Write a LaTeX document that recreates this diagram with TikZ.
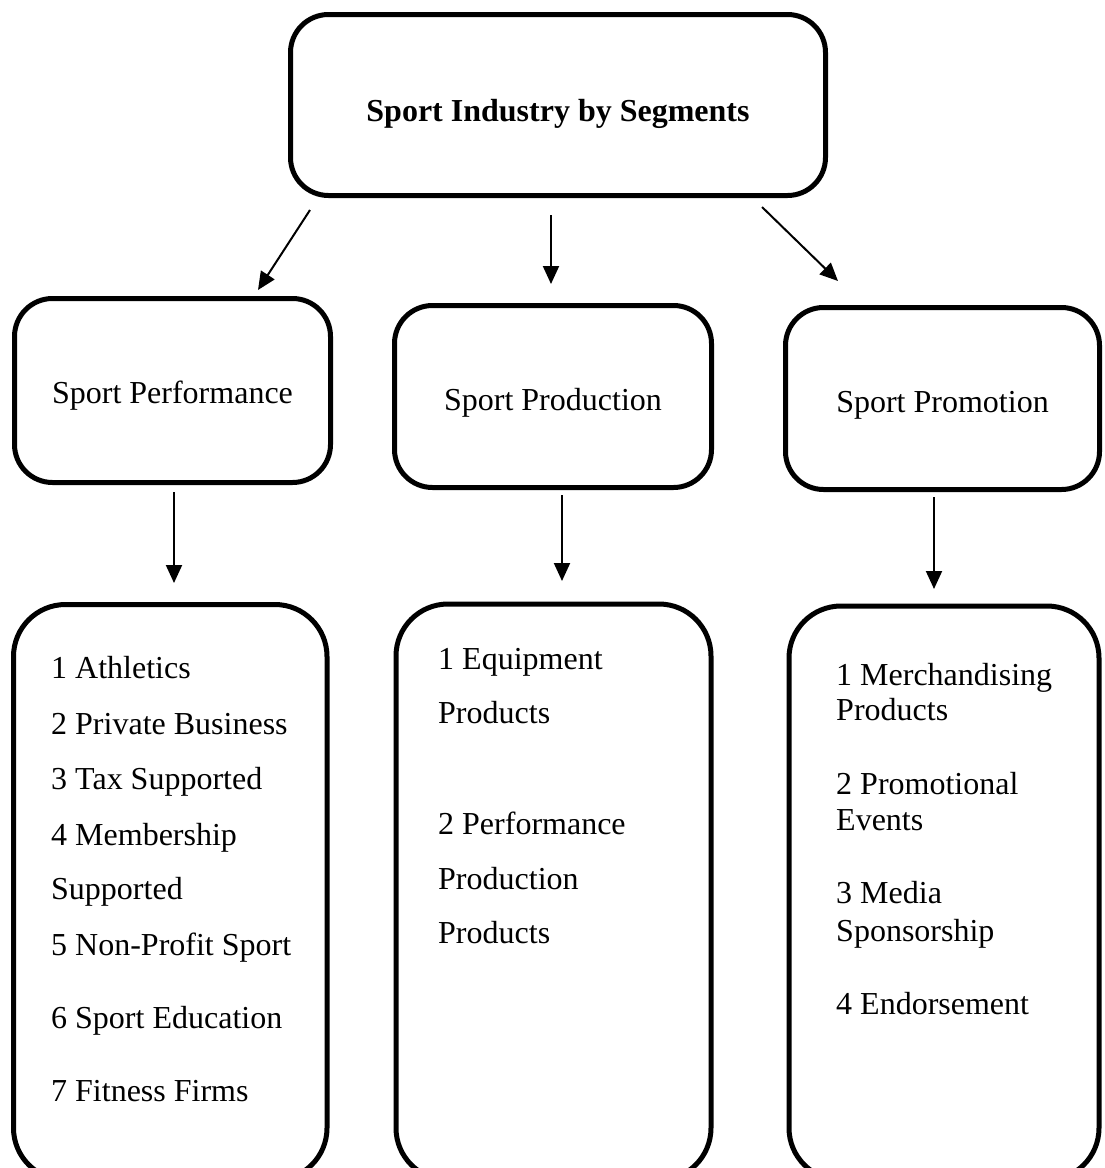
\documentclass[tikz,border=0pt]{standalone}
\usepackage{fontspec}
\setmainfont{Liberation Serif}
\usetikzlibrary{arrows.meta}
\begin{document}
\begin{tikzpicture}[x=1pt,y=-1pt,
  box/.style={draw,line width=5pt,rounded corners=38pt,inner sep=0pt},
  tallbox/.style={draw,line width=5pt,rounded corners=52pt,inner sep=0pt},
  label text/.style={inner sep=0pt,font=\fontsize{32}{38}\selectfont},
  item/.style={anchor=base west,inner sep=0pt,font=\fontsize{32}{38}\selectfont},
  link/.style={line width=2pt,-{Triangle[length=18pt,width=16pt]}}]
\useasboundingbox (0,0) rectangle (1104,1168);
\clip (0,0) rectangle (1104,1168);

% root
\node[box,minimum width=535pt,minimum height=181pt] (root) at (558,105) {};
\node[label text,font=\fontsize{32}{38}\selectfont\bfseries] (roottext) at (558,114)
  {Sport Industry by Segments};

% segments
\node[box,minimum width=316pt,minimum height=184pt] (perf) at (172.5,390.5) {};
\node[box,minimum width=317pt,minimum height=182pt] (prod) at (553,396.5) {};
\node[box,minimum width=314pt,minimum height=182pt] (prom) at (942.5,398.5) {};
\node[label text] (perftext) at (172.5,395.5) {Sport Performance};
\node[label text] (prodtext) at (553,402.5) {Sport Production};
\node[label text] (promtext) at (942.5,405.5) {Sport Promotion};

% lists (run past the lower edge)
\node[tallbox,minimum width=313.5pt,minimum height=575.5pt] (perflist) at (170.25,892.25) {};
\node[tallbox,minimum width=315pt,minimum height=576pt] (prodlist) at (553.5,892) {};
\node[tallbox,minimum width=310pt,minimum height=574pt] (promlist) at (944,893) {};

% connectors
\coordinate (r1) at (310,210);  \coordinate (p1) at (258,290);
\coordinate (r2) at (551,215);  \coordinate (p2) at (551,284);
\coordinate (r3) at (762,207);  \coordinate (p3) at (838,281);
\draw[link] (r1) -- (p1);
\draw[link] (r2) -- (p2);
\draw[link] (r3) -- (p3);
\coordinate (s1) at (174,492);  \coordinate (l1) at (174,583);
\coordinate (s2) at (562,495);  \coordinate (l2) at (562,581);
\coordinate (s3) at (934,497);  \coordinate (l3) at (934,589);
\draw[link] (s1) -- (l1);
\draw[link] (s2) -- (l2);
\draw[link] (s3) -- (l3);

% performance items
\node[item] (a1) at (51,678) {1 Athletics};
\node[item] (a2) at (51,734) {2 Private Business};
\node[item] (a3) at (51,789) {3 Tax Supported};
\node[item] (a4) at (51,845) {4 Membership};
\node[item] (a5) at (51,899) {Supported};
\node[item] (a6) at (51,955) {5 Non-Profit Sport};
\node[item] (a7) at (51,1028) {6 Sport Education};
\node[item] (a8) at (51,1101) {7 Fitness Firms};

% production items
\node[item] (b1) at (438,669) {1 Equipment};
\node[item] (b2) at (438,723) {Products};
\node[item] (b3) at (438,834) {2 Performance};
\node[item] (b4) at (438,889) {Production};
\node[item] (b5) at (438,943) {Products};

% promotion items
\node[item] (c1) at (836,685) {1 Merchandising};
\node[item] (c2) at (836,720) {Products};
\node[item] (c3) at (836,794) {2 Promotional};
\node[item] (c4) at (836,830) {Events};
\node[item] (c5) at (836,903) {3 Media};
\node[item] (c6) at (836,941) {Sponsorship};
\node[item] (c7) at (836,1014) {4 Endorsement};
\end{tikzpicture}
\end{document}
